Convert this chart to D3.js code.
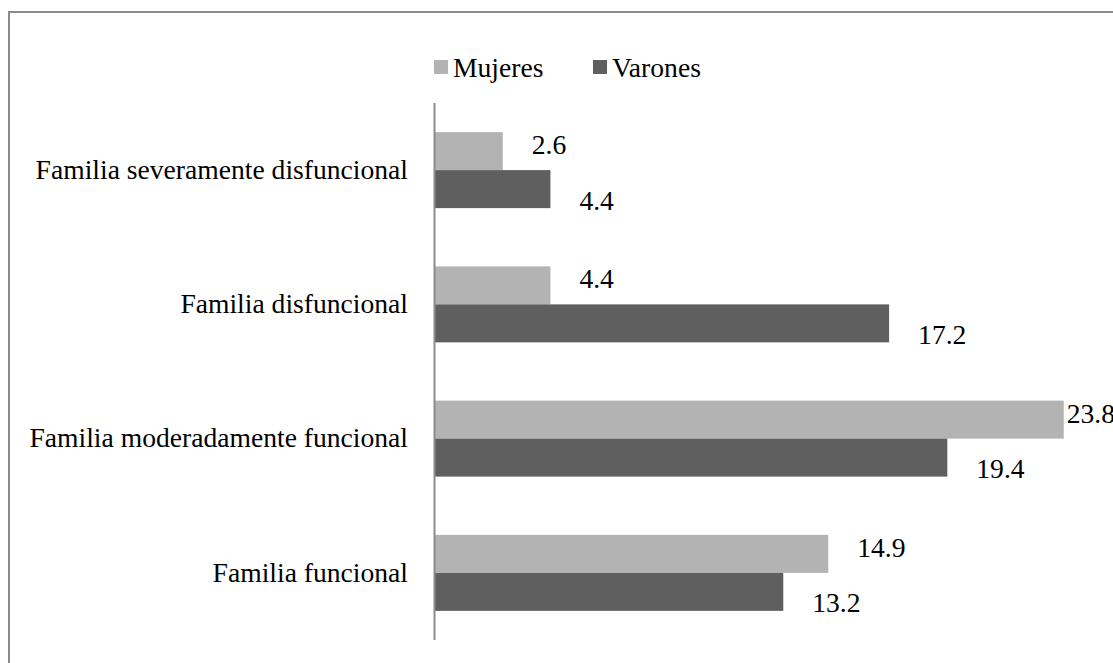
<!DOCTYPE html>
<html>
<head>
<meta charset="utf-8">
<script src="https://cdn.jsdelivr.net/npm/d3@7"></script>
<style>
  body { margin: 0; background: #fff; }
  svg { display: block; font-family: "Liberation Serif", "Times New Roman", serif; }
</style>
</head>
<body>
<svg width="1113" height="663"></svg>
<script>
const categories = [
  'Familia severamente disfuncional',
  'Familia disfuncional',
  'Familia moderadamente funcional',
  'Familia funcional',
];
const seriesNames = ['Mujeres', 'Varones'];
const mujeres = [2.6, 4.4, 23.8, 14.9];
const varones = [4.4, 17.2, 19.4, 13.2];
const colors = ['#b3b3b3', '#5f5f5f'];

const W = 1113;
const H = 663;
const FS = 27.6;
const svg = d3.select('svg');

// chart frame (runs off the right and bottom of the picture)
svg.append('rect')
  .attr('x', 9).attr('y', 12)
  .attr('width', W + 20).attr('height', H + 20)
  .attr('fill', 'none')
  .attr('stroke', '#8c8c8c')
  .attr('stroke-width', 2);

const plot = { left: 434, top: 103, bottom: 640 };

const y = d3.scaleBand()
  .domain(categories)
  .range([plot.top, plot.bottom])
  .paddingInner(0.434)
  .paddingOuter(0.217);

const y1 = d3.scaleBand()
  .domain(seriesNames)
  .range([0, y.bandwidth()]);

const x = d3.scaleLinear()
  .domain([0, 10])
  .range([plot.left, plot.left + 264.6]);

const rows = categories.map((c, i) => ({
  cat: c,
  vals: [
    { s: 'Mujeres', v: mujeres[i] },
    { s: 'Varones', v: varones[i] },
  ],
}));

const groups = svg.append('g').attr('class', 'bars')
  .selectAll('g')
  .data(rows)
  .join('g')
  .attr('transform', d => `translate(0,${y(d.cat)})`);

groups.selectAll('rect')
  .data(d => d.vals)
  .join('rect')
  .attr('x', x(0))
  .attr('y', d => y1(d.s))
  .attr('width', d => x(d.v) - x(0))
  .attr('height', y1.bandwidth())
  .attr('fill', (d, i) => colors[i]);

groups.selectAll('text')
  .data(d => d.vals)
  .join('text')
  .attr('x', (d) => {
    const end = x(d.v);
    return end + 30 > W - 50 ? end + 3 : end + 29;
  })
  .attr('y', d => y1(d.s) + y1.bandwidth() / 2 + (d.s === 'Mujeres' ? -6.5 : 11))
  .attr('dominant-baseline', 'central')
  .attr('font-size', FS)
  .attr('fill', '#000')
  .text(d => d.v.toFixed(1));

// category axis
const axis = svg.append('g')
  .attr('transform', `translate(${plot.left},0)`)
  .call(d3.axisLeft(y).tickSize(0).tickPadding(26));
axis.select('.domain')
  .attr('d', `M0.5,${plot.top}V${plot.bottom}`)
  .attr('stroke', '#8c8c8c')
  .attr('stroke-width', 2);
axis.selectAll('text')
  .attr('font-family', '"Liberation Serif", "Times New Roman", serif')
  .attr('font-size', FS)
  .attr('fill', '#000');

// legend
const legend = svg.append('g').attr('class', 'legend');
const legendX = [434, 593];
seriesNames.forEach((s, i) => {
  const g = legend.append('g').attr('transform', `translate(${legendX[i]},60)`);
  g.append('rect').attr('width', 14).attr('height', 14).attr('fill', colors[i]);
  g.append('text')
    .attr('x', 19).attr('y', 7)
    .attr('dominant-baseline', 'central')
    .attr('font-size', FS)
    .text(s);
});
</script>
</body>
</html>
